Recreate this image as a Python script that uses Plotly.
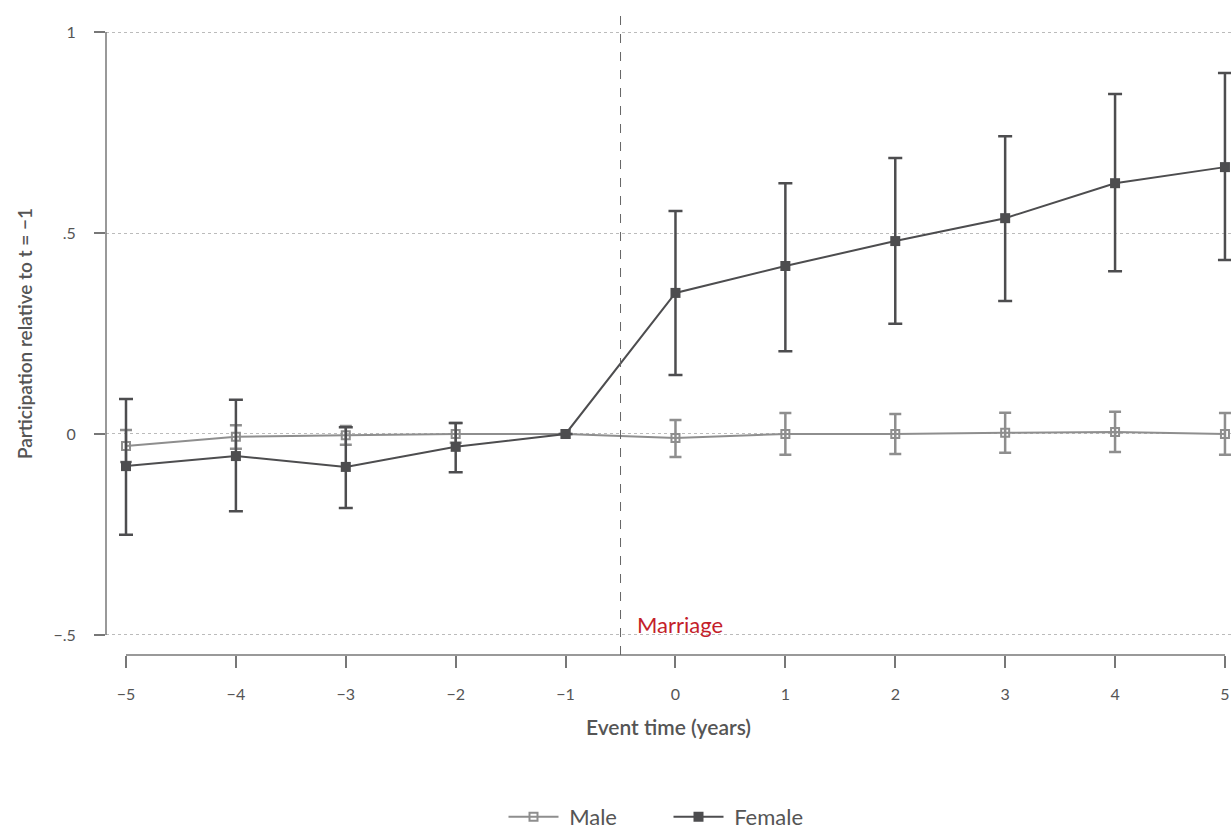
import plotly.graph_objects as go

# event time (years relative to marriage)
event_time = [-5, -4, -3, -2, -1, 0, 1, 2, 3, 4, 5]

# estimates and 95% CI bounds
female_est = [-0.080, -0.055, -0.082, -0.032, 0.0, 0.351, 0.418, 0.480, 0.537, 0.624, 0.664]
female_lo = [-0.251, -0.192, -0.184, -0.095, 0.0, 0.147, 0.206, 0.274, 0.331, 0.405, 0.433]
female_hi = [0.087, 0.085, 0.017, 0.027, 0.0, 0.555, 0.624, 0.687, 0.741, 0.846, 0.898]

male_est = [-0.030, -0.007, -0.003, 0.000, 0.0, -0.010, 0.000, 0.000, 0.003, 0.005, 0.000]
male_lo = [-0.070, -0.037, -0.027, -0.022, 0.0, -0.057, -0.052, -0.050, -0.047, -0.045, -0.052]
male_hi = [0.010, 0.022, 0.020, 0.027, 0.0, 0.035, 0.052, 0.050, 0.053, 0.055, 0.052]

y_ticks = [-0.5, 0, 0.5, 1]
y_tick_text = ["\u2212.5", "0", ".5", "1"]
x_tick_text = [f"\u2212{abs(t)}" if t < 0 else str(t) for t in event_time]

FONT = "Lato"
TEXT_COLOR = "#555555"
AXIS_COLOR = "#777777"
FEMALE_COLOR = "#4d4d4f"
MALE_COLOR = "#8e8e8e"


def _err(est, lo, hi):
    return dict(
        type="data",
        symmetric=False,
        array=[h - e for e, h in zip(est, hi)],
        arrayminus=[e - l for e, l in zip(est, lo)],
    )


fig = go.Figure()

fig.add_trace(go.Scatter(
    x=event_time, y=male_est, name="\u00a0Male", mode="lines+markers",
    line=dict(color=MALE_COLOR, width=2),
    marker=dict(symbol="square-open", size=8, color=MALE_COLOR, line=dict(width=2, color=MALE_COLOR)),
    error_y=dict(**_err(male_est, male_lo, male_hi), color=MALE_COLOR, thickness=2.5, width=6),
))
fig.add_trace(go.Scatter(
    x=event_time, y=female_est, name="\u00a0Female", mode="lines+markers",
    line=dict(color=FEMALE_COLOR, width=2),
    marker=dict(symbol="square", size=10, color=FEMALE_COLOR),
    error_y=dict(**_err(female_est, female_lo, female_hi), color=FEMALE_COLOR, thickness=2.5, width=7),
))

# detached axis lines (Stata style)
fig.add_shape(type="line", xref="paper", yref="y", x0=0, x1=0, y0=-0.5, y1=1,
              line=dict(color=AXIS_COLOR, width=1.5))
fig.add_shape(type="line", xref="x", yref="paper", x0=-5, x1=5, y0=0, y1=0,
              line=dict(color=AXIS_COLOR, width=1.5))
# marriage marker
fig.add_shape(type="line", xref="x", yref="paper", x0=-0.5, x1=-0.5, y0=0, y1=1,
              line=dict(color="#666666", width=1, dash="dash"))
fig.add_annotation(x=-0.5, y=-0.473, text="Marriage", showarrow=False,
                   xanchor="left", yanchor="middle", xshift=14,
                   font=dict(family=FONT, size=22, color="#c41e2a"))

fig.update_xaxes(
    range=[-5.182, 5.055], tickvals=event_time, ticktext=x_tick_text,
    showgrid=False, zeroline=False, showline=False,
    ticks="outside", ticklen=12, tickwidth=1.5, tickcolor=AXIS_COLOR,
    ticklabelstandoff=13,
    tickfont=dict(family=FONT, size=16, color=TEXT_COLOR),
    title=dict(text="Event time (years)", standoff=18,
               font=dict(family=FONT, size=21, color=TEXT_COLOR, weight=600)),
)
fig.update_yaxes(
    range=[-0.55, 1.05], tickvals=y_ticks, ticktext=y_tick_text,
    showgrid=True, gridcolor="#bbbbbb", griddash="dot", gridwidth=1,
    zeroline=False, showline=False,
    ticks="outside", ticklen=11, tickwidth=1.5, tickcolor=AXIS_COLOR,
    ticklabelstandoff=15,
    tickfont=dict(family=FONT, size=16, color=TEXT_COLOR),
    title=dict(text="Participation relative to t = \u22121", standoff=15,
               font=dict(family=FONT, size=19, color=TEXT_COLOR, weight=600)),
)

fig.update_layout(
    width=1231, height=832,
    margin=dict(l=106, r=0, t=12, b=177),
    paper_bgcolor="white", plot_bgcolor="white",
    showlegend=True,
    legend=dict(orientation="h", xref="paper", x=0.5, xanchor="center",
                yref="container", y=0.018, yanchor="middle",
                font=dict(family=FONT, size=22, color=TEXT_COLOR),
                itemwidth=50, entrywidth=100, tracegroupgap=0),
)

fig.write_html("out.html", config={"displayModeBar": False},
               post_script="document.body.style.margin='0';")
